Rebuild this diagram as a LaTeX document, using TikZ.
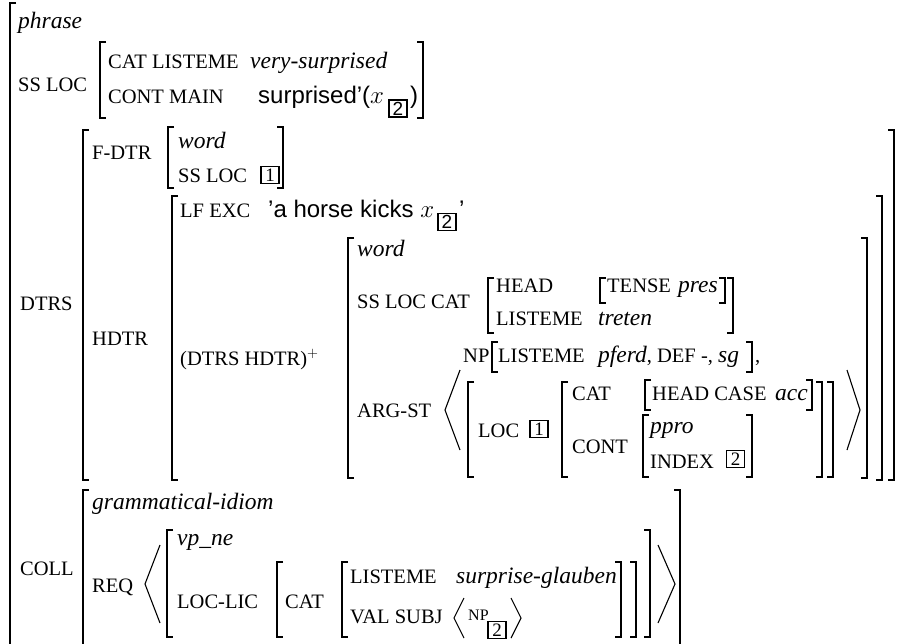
\documentclass[tikz,border=0pt]{standalone}
\usepackage{fontspec}
\setmainfont{Liberation Serif}
\setsansfont{Liberation Sans}
\newcommand{\featfont}{\fontsize{20.5}{24}\selectfont}
\newcommand{\valfont}{\fontsize{23.5}{28}\selectfont\itshape}
\newcommand{\lffont}{\fontsize{24}{28}\selectfont\sffamily}
\newcommand{\tagfont}{\fontsize{19}{19}\selectfont}
\tikzset{
  feat/.style={anchor=base west, inner sep=0pt, font=\featfont},
  val/.style={anchor=base west, inner sep=0pt, font=\valfont},
  lf/.style={anchor=base west, inner sep=0pt, font=\lffont},
  brk/.style={line width=1.3pt},
  ang/.style={line width=1.1pt},
  tagbox/.style={draw, line width=1.9pt, inner sep=0pt, minimum width=18pt, minimum height=17pt, font=\tagfont},
}
\begin{document}
\begin{tikzpicture}[x=1pt, y=-1pt]
\useasboundingbox (0,0) rectangle (897,643);

\draw[brk] (16,3) -- (10,3) -- (10,660);
\node[val] (phr) at (18,28) {phrase};

\node[feat] (ssloc) at (18,91) {SS LOC};
\draw[brk] (106,42) -- (100,42) -- (100,118) -- (106,118);
\draw[brk] (417,42) -- (423,42) -- (423,118) -- (417,118);
\node[feat] (catlis) at (108,68) {CAT LISTEME};
\node[val] (vsurp) at (250,68) {very-surprised};
\node[feat] (contmain) at (108,103) {CONT MAIN};
\node[lf] (surp) at (258,103) {surprised'($x$};
\node[tagbox, font=\tagfont\sffamily] (t2a) at (398,108.5) {2};
\node[lf] (surpc) at (410,103) {)};

\draw[brk] (89,130) -- (83,130) -- (83,480) -- (89,480);
\draw[brk] (888,130) -- (894,130) -- (894,480) -- (888,480);
\node[feat] (dtrs) at (20,310) {DTRS};

\node[feat] (fdtr) at (92,159) {F-DTR};
\draw[brk] (174,127) -- (168,127) -- (168,188) -- (174,188);
\draw[brk] (277,127) -- (283,127) -- (283,188) -- (277,188);
\node[val] (fword) at (178,148) {word};
\node[feat] (fss) at (178,182) {SS LOC};
\node[tagbox] (t1a) at (270,175) {1};

\node[feat] (hdtr) at (92,345) {HDTR};
\draw[brk] (178,196) -- (172,196) -- (172,480) -- (178,480);
\draw[brk] (876,196) -- (882,196) -- (882,480) -- (876,480);
\node[feat] (lfexc) at (180,217) {LF EXC};
\node[lf] (horse) at (268,217) {'a horse kicks $x$};
\node[tagbox, font=\tagfont\sffamily] (t2b) at (447,222) {2};
\node[lf] (horsec) at (459,217) {'};
\node[feat] (dhdtr) at (180,365) {(DTRS HDTR)$^{+}$};

\draw[brk] (354,238) -- (348,238) -- (348,478) -- (354,478);
\draw[brk] (861,238) -- (867,238) -- (867,478) -- (861,478);
\node[val] (hword) at (357,256) {word};
\node[feat] (sslc) at (357,308) {SS LOC CAT};
\draw[brk] (494,278) -- (488,278) -- (488,333) -- (494,333);
\draw[brk] (727,278) -- (733,278) -- (733,333) -- (727,333);
\node[feat] (head) at (496,292) {HEAD};
\draw[brk] (606,278) -- (600,278) -- (600,303) -- (606,303);
\draw[brk] (719,278) -- (725,278) -- (725,303) -- (719,303);
\node[feat] (tense) at (607,292) {TENSE};
\node[val] (pres) at (678,292) {pres};
\node[feat] (lis1) at (496,325) {LISTEME};
\node[val] (treten) at (598,325) {treten};

\node[feat] (np) at (463,362) {NP};
\draw[brk] (498,342) -- (492,342) -- (492,372) -- (498,372);
\draw[brk] (746,342) -- (752,342) -- (752,372) -- (746,372);
\node[feat] (lis2) at (498,362) {LISTEME};
\node[feat] (pferd) at (598,362) {{\valfont pferd}, DEF -, {\valfont sg}};
\node[feat] (npc) at (755,362) {,};

\node[feat] (argst) at (357,417) {ARG-ST};
\draw[ang] (460,370) -- (445,410) -- (460,450);
\draw[ang] (847,370) -- (860,410) -- (847,450);
\draw[brk] (474,382) -- (468,382) -- (468,477) -- (474,477);
\draw[brk] (827,382) -- (833,382) -- (833,477) -- (827,477);
\node[feat] (loc) at (478,437) {LOC};
\node[tagbox] (t1b) at (539,429) {1};
\draw[brk] (568,382) -- (562,382) -- (562,477) -- (568,477);
\draw[brk] (816,382) -- (822,382) -- (822,477) -- (816,477);
\node[feat] (cat2) at (572,400) {CAT};
\draw[brk] (651,380) -- (645,380) -- (645,410) -- (651,410);
\draw[brk] (806,380) -- (812,380) -- (812,410) -- (806,410);
\node[feat] (hcase) at (652,400) {HEAD CASE};
\node[val] (acc) at (775,400) {acc};
\node[feat] (cont) at (572,453) {CONT};
\draw[brk] (649,415) -- (643,415) -- (643,477) -- (649,477);
\draw[brk] (746,415) -- (752,415) -- (752,477) -- (746,477);
\node[val] (ppro) at (650,433) {ppro};
\node[feat] (index) at (650,468) {INDEX};
\node[tagbox] (t2c) at (735.5,459) {2};

\draw[brk] (89,490) -- (83,490) -- (83,660);
\draw[brk] (674,490) -- (680,490) -- (680,660);
\node[feat] (coll) at (20,575) {COLL};
\node[val] (gid) at (92,509) {grammatical-idiom};
\node[feat] (req) at (92,592) {REQ};
\draw[ang] (160,545) -- (145,584) -- (160,623);
\draw[ang] (658,545) -- (675,584) -- (658,623);
\draw[brk] (173,530) -- (167,530) -- (167,637) -- (173,637);
\draw[brk] (644,530) -- (650,530) -- (650,637) -- (644,637);
\node[val] (vpne) at (177,545) {vp\_ne};
\node[feat] (loclic) at (177,608) {LOC-LIC};
\draw[brk] (283,562) -- (277,562) -- (277,637) -- (283,637);
\draw[brk] (630,562) -- (636,562) -- (636,637) -- (630,637);
\node[feat] (cat3) at (285,608) {CAT};
\draw[brk] (348,562) -- (342,562) -- (342,637) -- (348,637);
\draw[brk] (615,562) -- (621,562) -- (621,637) -- (615,637);
\node[feat] (lis3) at (350,583) {LISTEME};
\node[val] (sglau) at (456,583) {surprise-glauben};
\node[feat] (valsubj) at (350,623) {VAL SUBJ};
\draw[ang] (464,598) -- (454,618) -- (464,638);
\draw[ang] (511,598) -- (521,618) -- (511,638);
\node[feat, font=\fontsize{16}{18}\selectfont] (np2) at (468,620) {NP};
\node[tagbox] (t2d) at (497,630) {2};

\end{tikzpicture}
\end{document}
